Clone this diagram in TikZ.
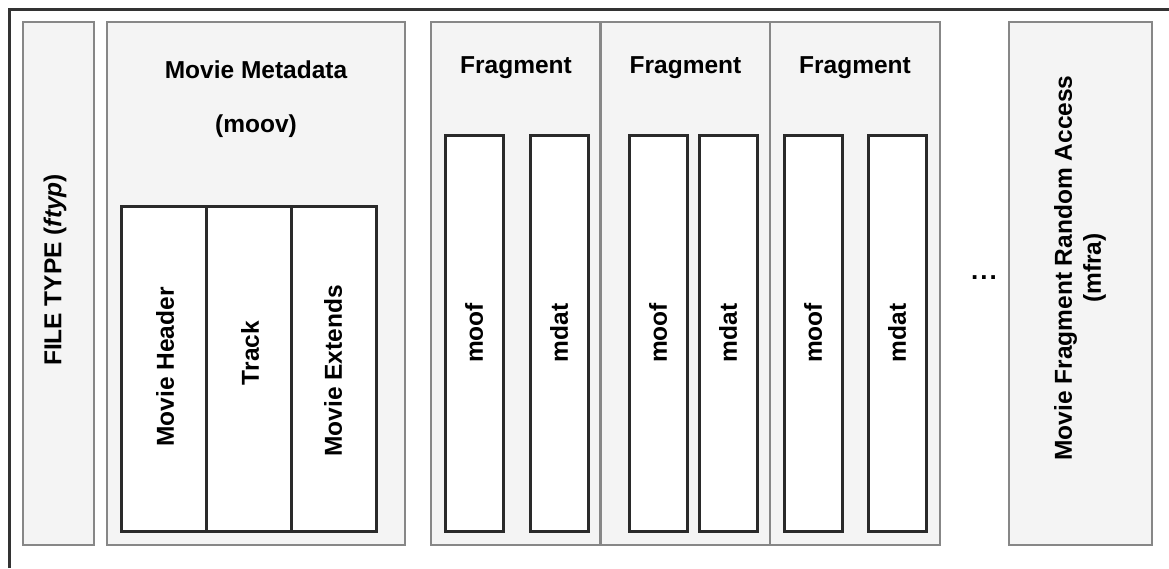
\documentclass[tikz,border=0pt]{standalone}
\usepackage{fontspec}
\setmainfont{Liberation Sans}
\usepackage{tikz}
\usetikzlibrary{positioning}
\definecolor{frame}{HTML}{333333}
\definecolor{boxline}{HTML}{878787}
\definecolor{boxfill}{HTML}{F4F4F4}
\definecolor{subline}{HTML}{2A2A2A}

\begin{document}
\begin{tikzpicture}[x=1pt,y=-1pt,
  part/.style={draw=boxline,fill=boxfill,line width=2.5pt,inner sep=0pt},
  sub/.style={draw=subline,fill=white,line width=3pt,inner sep=0pt},
  lbl/.style={font=\bfseries\fontsize{24.5}{29}\selectfont}]
  \useasboundingbox (0,0) rectangle (1169,568);
  % file frame, cut off at right and bottom
  \draw[frame,line width=3pt] (9,568) -- (9,9) -- (1169,9);

  % file type
  \node[part,minimum width=71,minimum height=523] (ftyp) at (58.5,283.5) {};
  \node[lbl,rotate=90] (ftyplbl) at (55,270) {FILE TYPE (\textit{ftyp})};

  % movie metadata
  \node[part,minimum width=298,minimum height=523] (moov) at (256,283.5) {};
  \node[lbl] (moovlbl) at (256,70) {Movie Metadata};
  \node[lbl] (moovtag) at (256,126) {(moov)};
  \node[sub,rotate=90,minimum width=325,minimum height=85] (mvhd) at (163.5,368.5) {};
  \node[sub,rotate=90,minimum width=325,minimum height=85] (trak) at (248.5,368.5) {};
  \node[sub,rotate=90,minimum width=325,minimum height=85] (mvex) at (333.5,368.5) {};
  \node[lbl,rotate=90] (mvhdlbl) at (165,367) {Movie Header};
  \node[lbl,rotate=90] (traklbl) at (250,353) {Track};
  \node[lbl,rotate=90] (mvexlbl) at (333,371) {Movie Extends};

  % fragments
  \foreach \i/\cx in {1/516,2/685.5,3/855}{
    \node[part,minimum width=170,minimum height=523] (frag\i) at (\cx,283.5) {};
    \node[lbl] (fraglbl\i) at (\cx,68) {Fragment};
  }
  \foreach \i/\cf/\cd in {1/474/559,2/658/728,3/813/897}{
    \node[sub,rotate=90,minimum width=396,minimum height=58,lbl] (moof\i) at (\cf,333) {moof};
    \node[sub,rotate=90,minimum width=396,minimum height=58,lbl] (mdat\i) at (\cd,333) {mdat};
  }

  \node[font=\bfseries\fontsize{26}{30}\selectfont,inner sep=0pt] (more) at (984,278) {.\kern2pt.\kern2pt.};

  % random access
  \node[part,minimum width=143,minimum height=523] (mfra) at (1080.5,283.5) {};
  \node[lbl,rotate=90,align=center] (mfralbl) at (1080,268) {Movie Fragment Random Access\\(mfra)};
\end{tikzpicture}
\end{document}
